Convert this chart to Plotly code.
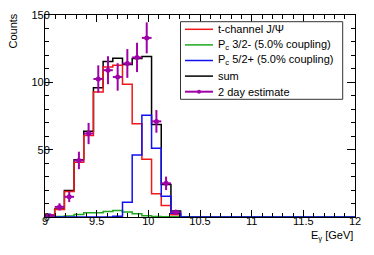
import numpy as np
import plotly.graph_objects as go

# ---------------- data ----------------
x_min, x_max, n_bins = 9.0, 12.0, 32
bin_edges = list(np.linspace(x_min, x_max, n_bins + 1))

red_tchannel = [1.5, 5.6, 19.0, 40.7, 60.6, 92.8, 111.4, 112.6, 98.5, 69.3, 42.8, 17.2, 8.5, 1.6] + [0.0] * 18
green_pc32 = [0.0, 0.3, 0.7, 1.9, 3.1, 3.1, 4.1, 4.8, 3.7, 2.4, 0.9, 0.4, 0.2, 0.1] + [0.0] * 18
blue_pc52 = [0.0, 0.0, 0.0, 0.0, 0.0, 0.0, 0.0, 0.5, 11.0, 46.0, 75.5, 51.0, 15.5, 2.8] + [0.0] * 18

est_values = [1.0, 7.5, 15.0, 42.0, 62.0, 102.5, 109.0, 104.0, 114.0, 118.5, 133.0, 71.0, 25.0, 3.5]
est_errors = [1.0, 2.7, 3.9, 6.5, 7.9, 10.1, 10.4, 10.2, 10.7, 10.9, 11.5, 8.4, 5.0, 1.9]

x_ticks = [9, 9.5, 10, 10.5, 11, 11.5, 12]
x_tick_labels = ["9", "9.5", "10", "10.5", "11", "11.5", "12"]
y_ticks = [0, 50, 100, 150]
y_tick_labels = ["0", "50", "100", "150"]

legend_labels = ["t-channel J/Ψ", "P<sub>c</sub> 3/2- (5.0% coupling)",
                 "P<sub>c</sub> 5/2+ (5.0% coupling)", "sum", "2 day estimate"]

# ---------------- derived ----------------
sum_total = [r + g + b for r, g, b in zip(red_tchannel, green_pc32, blue_pc52)]
bw = bin_edges[1] - bin_edges[0]
centers = [bin_edges[i] + bw / 2 for i in range(len(est_values))]

RED = "#f01818"
GREEN = "#1fa81f"
BLUE = "#1010f0"
BLACK = "#000000"
MAG = "#a000a8"
FONT = "Liberation Sans, Arial, sans-serif"

def step(vals):
    return list(vals) + [vals[-1]]

fig = go.Figure()
for vals, col in [(sum_total, BLACK), (red_tchannel, RED), (green_pc32, GREEN), (blue_pc52, BLUE)]:
    fig.add_trace(go.Scatter(x=bin_edges, y=step(vals), mode="lines", line=dict(shape="hv", color=col, width=1.5),
                             showlegend=False, hoverinfo="skip"))

fig.add_trace(go.Scatter(
    x=centers, y=est_values, mode="markers",
    marker=dict(color=MAG, size=5, symbol="circle"),
    error_y=dict(type="data", array=est_errors, color=MAG, thickness=2, width=0),
    error_x=dict(type="constant", value=bw / 2, color=MAG, thickness=2, width=0),
    showlegend=False))

# ---------------- layout ----------------
L, R, T, B = 45, 19, 15, 38
W, H = 374, 255
pw, ph = W - L - R, H - T - B

def px(xp):
    return (xp - L) / pw

def py(yp):
    return (H - B - yp) / ph

axis_common = dict(showgrid=False, zeroline=False, showline=True, linecolor="black", linewidth=1,
                   mirror="allticks", ticks="inside", tickcolor="black", tickwidth=1,
                   tickfont=dict(family=FONT, size=11, color="black"))

fig.update_layout(
    width=W, height=H, margin=dict(l=L, r=R, t=T, b=B, autoexpand=False),
    plot_bgcolor="white", paper_bgcolor="white",
    font=dict(family=FONT, size=11, color="black"),
    xaxis=dict(range=[x_min, x_max], tickvals=x_ticks, ticktext=x_tick_labels, ticklen=7,
               ticklabelstandoff=-6,
               minor=dict(dtick=0.1, ticklen=4, ticks="inside", tickcolor="black"), **axis_common),
    yaxis=dict(range=[0, 150], tickvals=y_ticks, ticktext=y_tick_labels, ticklen=8,
               ticklabelstandoff=-8,
               minor=dict(dtick=10, ticklen=4, ticks="inside", tickcolor="black"), **axis_common),
    showlegend=False,
)

# axis titles
fig.add_annotation(text="Counts", textangle=-90, x=px(12.5), y=py(31), xref="paper", yref="paper",
                   xanchor="center", yanchor="middle", showarrow=False, font=dict(family=FONT, size=11))
fig.add_annotation(text="E<sub>γ</sub> [GeV]", x=1.0, y=py(236), xref="paper", yref="paper",
                   xanchor="right", yanchor="middle", showarrow=False, font=dict(family=FONT, size=11))

# legend box (drawn manually to match the compact entry spacing)
bx0, bx1, by0, by1 = 180.5, 342.7, 21.7, 99.3
fig.add_shape(type="rect", xref="paper", yref="paper", x0=px(bx0), x1=px(bx1), y0=py(by1), y1=py(by0),
              line=dict(color="#333333", width=1), fillcolor="white", layer="above")
legend_colors = [RED, GREEN, BLUE, BLACK, MAG]
for i, (lab, col) in enumerate(zip(legend_labels, legend_colors)):
    yy = 29.3 + 15.6 * i
    fig.add_shape(type="line", xref="paper", yref="paper", x0=px(185), x1=px(213), y0=py(yy), y1=py(yy),
                  line=dict(color=col, width=1.5 if i < 4 else 2), layer="above")
    if i == 4:
        fig.add_shape(type="circle", xref="paper", yref="paper", x0=px(197), x1=px(201),
                      y0=py(yy + 2), y1=py(yy - 2), line=dict(color=col, width=0), fillcolor=col, layer="above")
    fig.add_annotation(text=lab, x=px(216), y=py(yy), xref="paper", yref="paper", xanchor="left",
                       yanchor="middle", showarrow=False, font=dict(family=FONT, size=11, color="black"))

fig.write_html("out.html", config={"displayModeBar": False},
               post_script="document.body.style.margin='0px';document.body.style.padding='0px';")
